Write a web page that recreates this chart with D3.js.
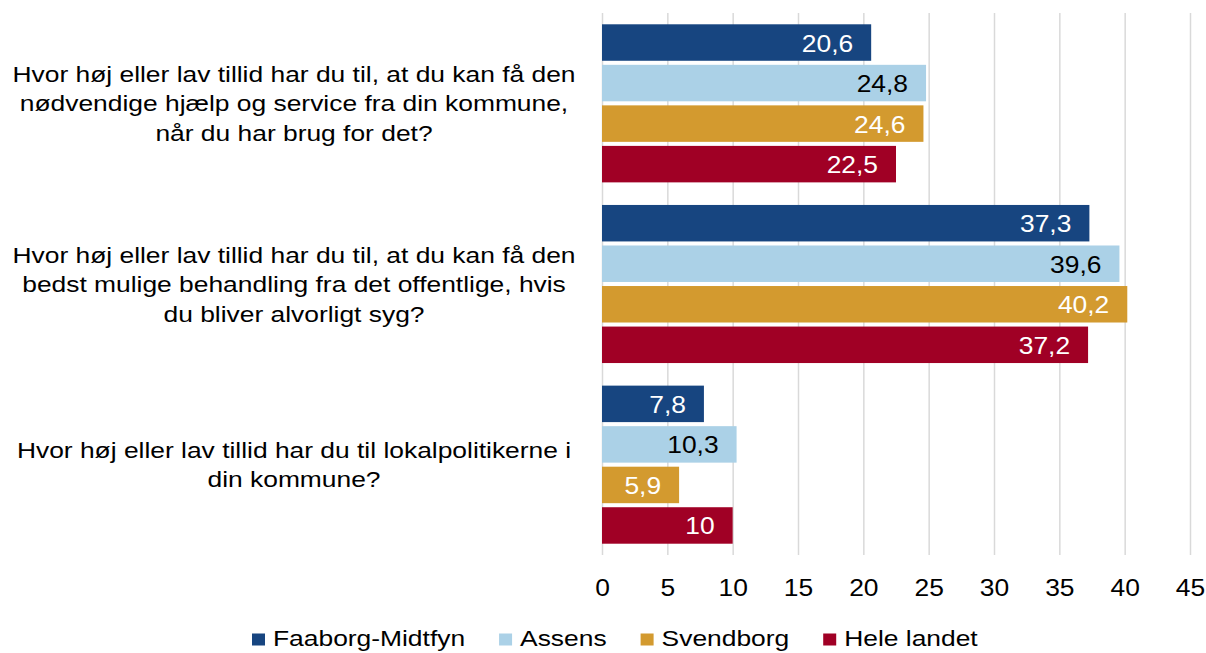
<!DOCTYPE html>
<html lang="da">
<head>
<meta charset="utf-8">
<title>Tillid til kommune, sundhedsvæsen og lokalpolitikere</title>
<script src="https://cdn.jsdelivr.net/npm/d3@7"></script>
<style>
  html, body { margin: 0; padding: 0; background: #fff; }
  svg { display: block; font-family: "Liberation Sans", Arial, Helvetica, sans-serif; }
</style>
</head>
<body>
<svg id="chart" width="1206" height="653"></svg>
<script>
// Questions, each split into the lines it is printed on
const questions = [
  ["Hvor høj eller lav tillid har du til, at du kan få den",
   "nødvendige hjælp og service fra din kommune,",
   "når du har brug for det?"],
  ["Hvor høj eller lav tillid har du til, at du kan få den",
   "bedst mulige behandling fra det offentlige, hvis",
   "du bliver alvorligt syg?"],
  ["Hvor høj eller lav tillid har du til lokalpolitikerne i",
   "din kommune?"]
];

// Series (one value per question)
const seriesNames = ["Faaborg-Midtfyn", "Assens", "Svendborg", "Hele landet"];
const faaborgMidtfyn = [20.6, 37.3, 7.8];
const assens         = [24.8, 39.6, 10.3];
const svendborg      = [24.6, 40.2, 5.9];
const heleLandet     = [22.5, 37.2, 10];

// Value axis ticks
const xTicks = [0, 5, 10, 15, 20, 25, 30, 35, 40, 45];

const seriesValues = [faaborgMidtfyn, assens, svendborg, heleLandet];
const colors = ["#174580", "#abd1e7", "#d39a2f", "#a00025"];
const labelColors = ["#ffffff", "#000000", "#ffffff", "#ffffff"];

const svg = d3.select("#chart");

const plot = { left: 602, right: 1190, top: 13, bottom: 555 };

const x = d3.scaleLinear().domain([0, 45]).range([plot.left, plot.right]);

const y = d3.scaleBand()
  .domain(d3.range(questions.length))
  .range([plot.top, plot.bottom])
  .paddingInner(0.125)
  .paddingOuter(0.0625);

const ySeries = d3.scaleBand()
  .domain(d3.range(seriesNames.length))
  .range([0, y.bandwidth()])
  .paddingInner(0.1);

// Text is drawn slightly widened horizontally
const TEXT_SX = 1.2, NUM_SX = 1.1;
function stretchedText(parent, xPos, yPos, str, size, sx, anchor) {
  return parent.append("text")
    .attr("transform", `translate(${xPos},${yPos}) scale(${sx},1)`)
    .attr("text-anchor", anchor)
    .style("font-size", size + "px")
    .text(str);
}

// Vertical gridlines
const grid = svg.append("g")
  .attr("transform", `translate(0,${plot.bottom})`)
  .call(d3.axisBottom(x).tickValues(xTicks).tickSize(-(plot.bottom - plot.top)).tickFormat(""));
grid.select(".domain").remove();
grid.selectAll("line").attr("stroke", "#d9d9d9").attr("stroke-width", 1.5);

// Bars
const groups = svg.append("g").selectAll("g")
  .data(questions)
  .join("g")
  .attr("transform", (d, i) => `translate(0,${y(i)})`);

seriesValues.forEach((vals, s) => {
  groups.append("rect")
    .attr("x", x(0))
    .attr("y", ySeries(s))
    .attr("width", (d, i) => x(vals[i]) - x(0))
    .attr("height", ySeries.bandwidth())
    .attr("fill", colors[s]);
});

// Value labels inside the bar ends
const fmt = v => String(v).replace(".", ",");
groups.each(function (d, i) {
  const g = d3.select(this);
  seriesValues.forEach((vals, s) => {
    stretchedText(g, x(vals[i]) - 18, ySeries(s) + ySeries.bandwidth() / 2 + 9,
                  fmt(vals[i]), 24, NUM_SX, "end")
      .attr("fill", labelColors[s]);
  });
});

// Question labels
const lineGap = 29.5;
questions.forEach((lines, i) => {
  const cy = y(i) + y.bandwidth() / 2;
  lines.forEach((line, k) => {
    stretchedText(svg, 294, cy + (k - (lines.length - 1) / 2) * lineGap + 8,
                  line, 22, TEXT_SX, "middle")
      .attr("fill", "#000");
  });
});

// Value axis labels
const axis = svg.append("g")
  .attr("transform", `translate(0,${plot.bottom})`)
  .call(d3.axisBottom(x).tickValues(xTicks).tickSize(0).tickFormat(d3.format("d")));
axis.select(".domain").remove();
axis.selectAll("text")
  .attr("y", 41).attr("dy", 0)
  .attr("transform", `scale(${NUM_SX},1)`)
  .attr("fill", "#000")
  .style("font-size", "24px")
  .style("font-family", "'Liberation Sans', Arial, sans-serif");

// Legend
const legend = svg.append("g");
let lx = 252;
seriesNames.forEach((name, s) => {
  legend.append("rect")
    .attr("x", lx).attr("y", 633.5)
    .attr("width", 13).attr("height", 12)
    .attr("fill", colors[s]);
  const t = stretchedText(legend, lx + 21, 646, name, 22, TEXT_SX, "start").attr("fill", "#000");
  lx += 21 + t.node().getComputedTextLength() * TEXT_SX + 34;
});
</script>
</body>
</html>
